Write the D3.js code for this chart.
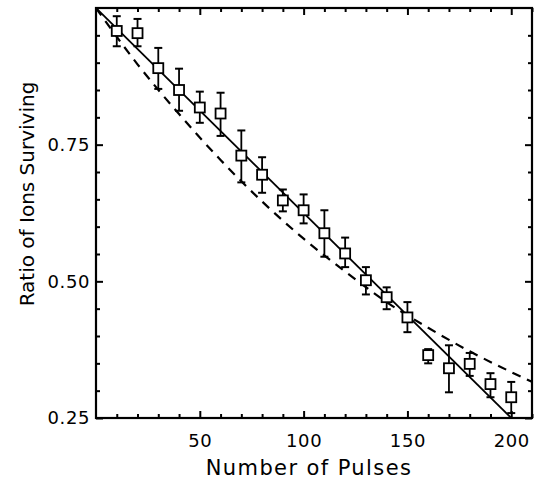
<!DOCTYPE html>
<html>
<head>
<meta charset="utf-8">
<script src="https://d3js.org/d3.v7.min.js"></script>
<style>
  body { margin: 0; background: #fff; }
  svg { display: block; }
  text { font-family: "DejaVu Sans", sans-serif; fill: #000; }
</style>
</head>
<body>
<div class="chart"></div>
<script>
// measured points: number of pulses vs ratio of ions surviving
var pulses = [10, 20, 30, 40, 50, 60, 70, 80, 90, 100, 110, 120, 130, 140, 150, 160, 170, 180, 190, 200];
var ratio = [0.958, 0.954, 0.890, 0.850, 0.818, 0.807, 0.730, 0.695, 0.648, 0.630,
    0.588, 0.551, 0.502, 0.471, 0.434, 0.365, 0.341, 0.349, 0.312, 0.288];
var errHigh = [0.985, 0.980, 0.927, 0.889, 0.847, 0.845, 0.776, 0.727, 0.668, 0.659,
    0.630, 0.580, 0.526, 0.489, 0.462, 0.376, 0.383, 0.369, 0.332, 0.316];
var errLow = [0.930, 0.930, 0.852, 0.812, 0.790, 0.766, 0.681, 0.662, 0.628, 0.606,
    0.545, 0.526, 0.476, 0.449, 0.407, 0.350, 0.297, 0.327, 0.288, 0.259];

// solid fit line (straight)
var fitX = [0, 200];
var fitY = [1.0, 0.25];

// dashed curve
var dashX = [0, 20, 40, 60, 80, 100, 120, 140, 160, 180, 200, 210];
var dashY = [1.0, 0.897, 0.806, 0.722, 0.646, 0.578, 0.518, 0.462, 0.415, 0.372, 0.334, 0.316];

var xMajor = [50, 100, 150, 200];
var xMinor = [10, 20, 30, 40, 60, 70, 80, 90, 110, 120, 130, 140, 160, 170, 180, 190, 210];
var yMajor = [0.25, 0.50, 0.75];
var yMinor = [0.30, 0.35, 0.40, 0.45, 0.55, 0.60, 0.65, 0.70, 0.80, 0.85, 0.90, 0.95];

var svg_width = 539, svg_height = 482;
var plotLeft = 96, plotRight = 532, plotTop = 8, plotBottom = 418;

var svg = d3.select('.chart')
    .append("svg")
    .attr("width", svg_width)
    .attr("height", svg_height);

svg.append("rect")
    .attr("width", svg_width)
    .attr("height", svg_height)
    .attr("fill", "#fff");

var xScale = d3.scaleLinear().domain([0, 210]).range([plotLeft, plotRight]);
var yScale = d3.scaleLinear().domain([0.25, 1.0]).range([plotBottom, plotTop]);

function styleAxis(g) {
    g.select(".domain").remove();
    g.selectAll("line").attr("stroke", "#000").attr("stroke-width", 2);
    g.selectAll("text")
        .attr("font-size", 18)
        .attr("letter-spacing", "0.6px")
        .attr("font-family", "DejaVu Sans");
}

// bottom axis (labels) + minor ticks
svg.append("g")
    .attr("transform", "translate(0," + plotBottom + ")")
    .call(d3.axisBottom(xScale).tickValues(xMajor).tickSize(-7).tickPadding(16).tickFormat(d3.format("d")))
    .call(styleAxis);
svg.append("g")
    .attr("transform", "translate(0," + plotBottom + ")")
    .call(d3.axisBottom(xScale).tickValues(xMinor).tickSize(-4).tickFormat(""))
    .call(styleAxis);

// top axis
svg.append("g")
    .attr("transform", "translate(0," + plotTop + ")")
    .call(d3.axisTop(xScale).tickValues(xMajor).tickSize(-7).tickFormat(""))
    .call(styleAxis);
svg.append("g")
    .attr("transform", "translate(0," + plotTop + ")")
    .call(d3.axisTop(xScale).tickValues(xMinor).tickSize(-4).tickFormat(""))
    .call(styleAxis);

// left axis
svg.append("g")
    .attr("transform", "translate(" + plotLeft + ",0)")
    .call(d3.axisLeft(yScale).tickValues(yMajor).tickSize(-7).tickPadding(6).tickFormat(d3.format(".2f")))
    .call(styleAxis);
svg.append("g")
    .attr("transform", "translate(" + plotLeft + ",0)")
    .call(d3.axisLeft(yScale).tickValues(yMinor).tickSize(-4).tickFormat(""))
    .call(styleAxis);

// right axis
svg.append("g")
    .attr("transform", "translate(" + plotRight + ",0)")
    .call(d3.axisRight(yScale).tickValues(yMajor).tickSize(-7).tickFormat(""))
    .call(styleAxis);
svg.append("g")
    .attr("transform", "translate(" + plotRight + ",0)")
    .call(d3.axisRight(yScale).tickValues(yMinor).tickSize(-4).tickFormat(""))
    .call(styleAxis);

// frame
svg.append("rect")
    .attr("x", plotLeft)
    .attr("y", plotTop)
    .attr("width", plotRight - plotLeft)
    .attr("height", plotBottom - plotTop)
    .attr("fill", "none")
    .attr("stroke", "#000")
    .attr("stroke-width", 2.2);

svg.append("clipPath")
    .attr("id", "plot-clip")
    .append("rect")
    .attr("x", plotLeft)
    .attr("y", plotTop)
    .attr("width", plotRight - plotLeft)
    .attr("height", plotBottom - plotTop);

var line = d3.line()
    .x(function (d) { return xScale(d[0]); })
    .y(function (d) { return yScale(d[1]); });

// dashed curve
svg.append("path")
    .datum(dashX.map(function (v, i) { return [v, dashY[i]]; }))
    .attr("clip-path", "url(#plot-clip)")
    .attr("fill", "none")
    .attr("stroke", "#000")
    .attr("stroke-width", 2.2)
    .attr("stroke-dasharray", "9,7")
    .attr("d", line.curve(d3.curveMonotoneX));

// solid line
svg.append("path")
    .datum(fitX.map(function (v, i) { return [v, fitY[i]]; }))
    .attr("clip-path", "url(#plot-clip)")
    .attr("fill", "none")
    .attr("stroke", "#000")
    .attr("stroke-width", 1.8)
    .attr("d", d3.line()
        .x(function (d) { return xScale(d[0]); })
        .y(function (d) { return yScale(d[1]); }));

var data = pulses.map(function (p, i) {
    return { x: p, y: ratio[i], hi: errHigh[i], lo: errLow[i] };
});

var points = svg.selectAll(".pt")
    .data(data)
    .enter()
    .append("g")
    .attr("class", "pt");

// error bars
points.append("line")
    .attr("x1", function (d) { return xScale(d.x); })
    .attr("x2", function (d) { return xScale(d.x); })
    .attr("y1", function (d) { return yScale(d.hi); })
    .attr("y2", function (d) { return yScale(d.lo); })
    .attr("stroke", "#000")
    .attr("stroke-width", 1.8);
["hi", "lo"].forEach(function (k) {
    points.append("line")
        .attr("x1", function (d) { return xScale(d.x) - 4; })
        .attr("x2", function (d) { return xScale(d.x) + 4; })
        .attr("y1", function (d) { return yScale(d[k]); })
        .attr("y2", function (d) { return yScale(d[k]); })
        .attr("stroke", "#000")
        .attr("stroke-width", 2);
});

// squares
points.append("rect")
    .attr("x", function (d) { return xScale(d.x) - 5; })
    .attr("y", function (d) { return yScale(d.y) - 5; })
    .attr("width", 10)
    .attr("height", 10)
    .attr("fill", "#fff")
    .attr("stroke", "#000")
    .attr("stroke-width", 1.8);

// axis titles
svg.append("text")
    .attr("x", 309)
    .attr("y", 475)
    .attr("text-anchor", "middle")
    .attr("font-size", 21)
    .attr("letter-spacing", "1.4px")
    .text("Number of Pulses");

svg.append("text")
    .attr("transform", "translate(34,194) rotate(-90)")
    .attr("text-anchor", "middle")
    .attr("font-size", 20)
    .text("Ratio of Ions Surviving");
</script>
</body>
</html>
